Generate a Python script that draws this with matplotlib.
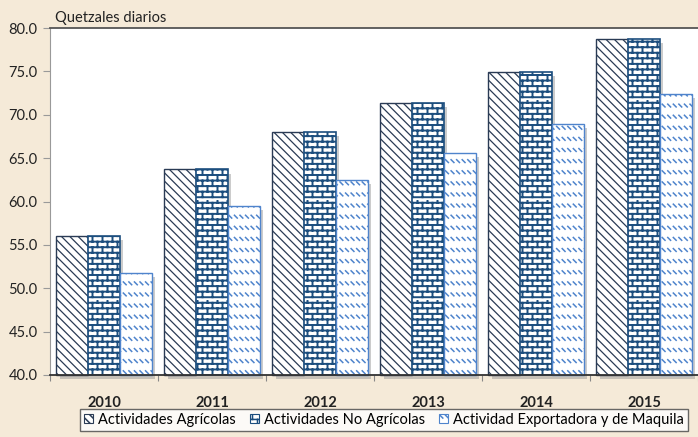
import warnings
warnings.filterwarnings('ignore')
import numpy as np
import matplotlib
matplotlib.use('Agg')
import matplotlib.pyplot as plt
import matplotlib.hatch as mhatch
import matplotlib.patheffects as pe
from matplotlib.path import Path
from matplotlib.patches import Patch

# ---- data ----
years = ['2010', '2011', '2012', '2013', '2014', '2015']
agricolas = [56.00, 63.70, 68.00, 71.40, 74.97, 78.72]
no_agricolas = [56.00, 63.70, 68.00, 71.40, 74.97, 78.72]
maquila = [51.75, 59.45, 62.50, 65.63, 68.91, 72.36]
series_labels = ['Actividades Agrícolas', 'Actividades No Agrícolas',
                 'Actividad Exportadora y de Maquila']
yticks = [40, 45, 50, 55, 60, 65, 70, 75, 80]
ylabel_text = 'Quetzales diarios'

BS = chr(92)


# ---- custom hatch patterns (unit tile = 1 inch = 100 px) ----
class BrickHatch(mhatch.HatchPatternBase):
    def __init__(self, hatch, density):
        self.on = hatch.count('b') > 0
        self.rows, self.cols = 18, 10
        self.num_vertices = ((self.rows + self.rows * self.cols) * 2) if self.on else 0

    def set_vertices_and_codes(self, vertices, codes):
        h = 1.0 / self.rows
        w = 1.0 / self.cols
        v = []
        for r in range(self.rows):
            y = (r + 0.5) * h
            v += [(0.0, y), (1.0, y)]
        for r in range(self.rows):
            y0 = (r + 0.5) * h
            y1 = y0 + h
            off = 0.0 if r % 2 == 0 else w / 2
            for c in range(self.cols):
                x = c * w + off + w / 4
                v += [(x, y0), (x, y1)]
        vertices[:] = np.array(v)
        codes[0::2] = Path.MOVETO
        codes[1::2] = Path.LINETO


class DashHatch(mhatch.HatchPatternBase):
    def __init__(self, hatch, density):
        self.on = hatch.count('m') > 0
        self.rows, self.cols = 9, 18
        self.num_vertices = (self.rows * self.cols * 2) if self.on else 0

    def set_vertices_and_codes(self, vertices, codes):
        d = 0.028
        v = []
        for r in range(self.rows):
            y = (r + 0.5) / self.rows
            for c in range(self.cols):
                x = (c + 0.2) / self.cols
                v += [(x, y + d / 2), (x + d, y - d / 2)]
        vertices[:] = np.array(v)
        codes[0::2] = Path.MOVETO
        codes[1::2] = Path.LINETO


mhatch._hatch_types.append(BrickHatch)
mhatch._hatch_types.append(DashHatch)

plt.rcParams['font.family'] = ['Lato', 'DejaVu Sans']
plt.rcParams['hatch.linewidth'] = 1.1

bg = '#F5EAD8'
fig = plt.figure(figsize=(6.98, 4.37), dpi=100, facecolor=bg)
ax = fig.add_axes([50 / 698, 1 - 375 / 437, 648 / 698, 347 / 437])
ax.set_facecolor('white')

x = np.arange(len(years))
w = 0.295
base = yticks[0]

styles = [
    dict(edgecolor='#2A3B55', hatch=BS * 4, lw=1.0, hlw=0.9),
    dict(edgecolor='#1C4E7E', hatch='b', lw=1.2, hlw=1.4),
    dict(edgecolor='#4F84CC', hatch='m', lw=1.0, hlw=1.1),
]
shadow = [pe.SimplePatchShadow(offset=(2.5, -3), shadow_rgbFace='#9a9a9a',
                               alpha=0.5, hatch=None), pe.Normal()]
for i, (vals, st) in enumerate(zip([agricolas, no_agricolas, maquila], styles)):
    vals = np.array(vals)
    bars = ax.bar(x + (i - 1) * w, vals - base, bottom=base, width=w, facecolor='white',
                  edgecolor=st['edgecolor'], hatch=st['hatch'], linewidth=st['lw'],
                  path_effects=shadow, zorder=2, clip_on=False)
    for b in bars:
        if hasattr(b, 'set_hatch_linewidth'):
            b.set_hatch_linewidth(st['hlw'])

ax.set_ylim(40, 80)
ax.set_xlim(-0.5, len(years) - 0.5)
ax.set_yticks(yticks)
ax.set_yticklabels([f'{t:.1f}' for t in yticks], fontsize=10.5, color='#222222')
ax.tick_params(axis='y', length=5, color='#999999', pad=4)

ax.set_xticks(np.arange(len(years) + 1) - 0.5)
ax.set_xticklabels([])
ax.tick_params(axis='x', which='major', length=4, color='#888888')
ax.set_xticks(x, minor=True)
ax.set_xticklabels(years, minor=True, fontsize=10.5, fontweight='bold', color='#222222')
ax.tick_params(axis='x', which='minor', length=0, pad=15)

ax.spines['left'].set_color('#999999')
ax.spines['bottom'].set_color('#333333')
ax.spines['bottom'].set_linewidth(1.3)
ax.spines['bottom'].set_zorder(3)
ax.spines['top'].set_color('#555555')
ax.spines['top'].set_linewidth(1.3)
ax.spines['right'].set_visible(False)

fig.text(55 / 698, 1 - 18 / 437, ylabel_text, fontsize=10.5, va='center', ha='left',
         color='#222222')

handles = [Patch(facecolor='white', edgecolor=st['edgecolor'], hatch=st['hatch'],
                 linewidth=0.8) for st in styles]
leg = fig.legend(handles, series_labels, loc='upper left', ncol=3, mode='expand',
                 bbox_to_anchor=(80 / 698, 1 - 413 / 437, 608 / 698, 0.01),
                 frameon=True, fancybox=False,
                 edgecolor='#444444', fontsize=10.5, handlelength=0.6,
                 handleheight=0.6, handletextpad=0.35, columnspacing=0.8,
                 borderpad=0.3, borderaxespad=0)
leg.get_frame().set_linewidth(1.0)

fig.savefig('out.png', dpi=100, facecolor=bg)
